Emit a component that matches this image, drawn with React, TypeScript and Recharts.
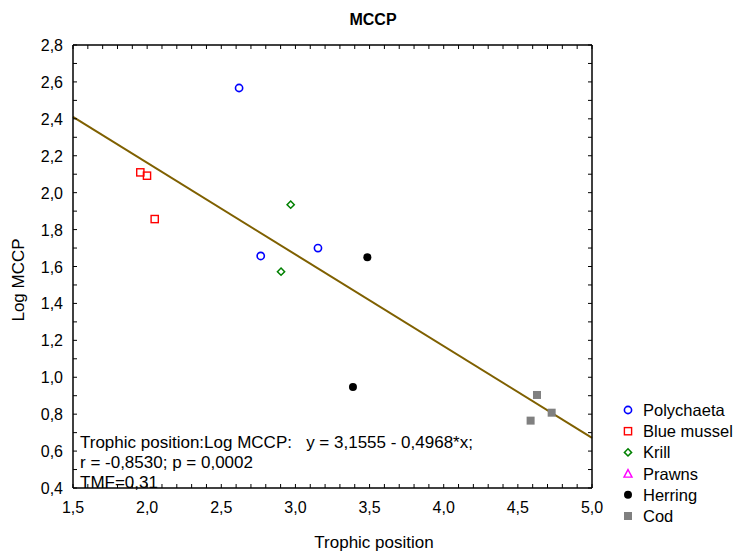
import React from 'react';
import { ScatterChart, Scatter, XAxis, YAxis, ReferenceLine } from 'recharts';

const polychaeta = [
  { x: 2.62, y: 2.567 },
  { x: 2.766, y: 1.657 },
  { x: 3.152, y: 1.7 },
];
const blueMussel = [
  { x: 1.954, y: 2.11 },
  { x: 1.999, y: 2.092 },
  { x: 2.051, y: 1.857 },
];
const krill = [
  { x: 2.968, y: 1.935 },
  { x: 2.903, y: 1.572 },
];
const prawns: { x: number; y: number }[] = [];
const herring = [
  { x: 3.485, y: 1.65 },
  { x: 3.388, y: 0.947 },
];
const cod = [
  { x: 4.629, y: 0.904 },
  { x: 4.728, y: 0.808 },
  { x: 4.586, y: 0.765 },
];
const fitLine = [
  { x: 1.5, y: 2.4103 },
  { x: 5.0, y: 0.6715 },
];

const xTicks = [1.5, 1.6, 1.7, 1.8, 1.9, 2.0, 2.1, 2.2, 2.3, 2.4, 2.5, 2.6, 2.7, 2.8, 2.9, 3.0, 3.1, 3.2, 3.3, 3.4, 3.5, 3.6, 3.7, 3.8, 3.9, 4.0, 4.1, 4.2, 4.3, 4.4, 4.5, 4.6, 4.7, 4.8, 4.9, 5.0];
const xMajor = [1.5, 2.0, 2.5, 3.0, 3.5, 4.0, 4.5, 5.0];
const xMajorLabels = ['1,5', '2,0', '2,5', '3,0', '3,5', '4,0', '4,5', '5,0'];
const yTicks = [0.4, 0.5, 0.6, 0.7, 0.8, 0.9, 1.0, 1.1, 1.2, 1.3, 1.4, 1.5, 1.6, 1.7, 1.8, 1.9, 2.0, 2.1, 2.2, 2.3, 2.4, 2.5, 2.6, 2.7, 2.8];
const yMajor = [0.4, 0.6, 0.8, 1.0, 1.2, 1.4, 1.6, 1.8, 2.0, 2.2, 2.4, 2.6, 2.8];
const yMajorLabels = ['0,4', '0,6', '0,8', '1,0', '1,2', '1,4', '1,6', '1,8', '2,0', '2,2', '2,4', '2,6', '2,8'];

const annotationLines = [
  'Trophic position:Log MCCP:   y = 3,1555 - 0,4968*x;',
  'r = -0,8530; p = 0,0002',
  'TMF=0,31',
];
const legendNames = ['Polychaeta', 'Blue mussel', 'Krill', 'Prawns', 'Herring', 'Cod'];
const legendKinds = ['circle', 'square', 'diamond', 'triangle', 'dot', 'block'];

const FONT = '"Liberation Sans", Arial, sans-serif';
const TICK_LEN = 4;

const findLabel = (v: number, majors: number[], labels: string[]) => {
  const i = majors.findIndex((m) => Math.abs(m - v) < 1e-6);
  return i >= 0 ? labels[i] : null;
};

const BottomTick = (props: any) => {
  const { x, y, payload } = props;
  const label = findLabel(payload.value, xMajor, xMajorLabels);
  return (
    <g>
      <line x1={x} y1={y} x2={x} y2={y - TICK_LEN} stroke="#000" strokeWidth={1} />
      {label && (
        <text x={x} y={y + 25} textAnchor="middle" fontSize={16} fontFamily={FONT} fill="#000">
          {label}
        </text>
      )}
    </g>
  );
};
const TopTick = (props: any) => {
  const { x, y } = props;
  return <line x1={x} y1={y} x2={x} y2={y + TICK_LEN} stroke="#000" strokeWidth={1} />;
};
const LeftTick = (props: any) => {
  const { x, y, payload } = props;
  const label = findLabel(payload.value, yMajor, yMajorLabels);
  return (
    <g>
      <line x1={x} y1={y} x2={x + TICK_LEN} y2={y} stroke="#000" strokeWidth={1} />
      {label && (
        <text x={x - 10} y={y + 6} textAnchor="end" fontSize={16} fontFamily={FONT} fill="#000">
          {label}
        </text>
      )}
    </g>
  );
};
const RightTick = (props: any) => {
  const { x, y } = props;
  return <line x1={x} y1={y} x2={x - TICK_LEN} y2={y} stroke="#000" strokeWidth={1} />;
};

const Marker = ({ kind, cx, cy }: { kind: string; cx: number; cy: number }) => {
  switch (kind) {
    case 'circle':
      return <circle cx={cx} cy={cy} r={3.6} fill="none" stroke="#0000ff" strokeWidth={1.6} />;
    case 'square':
      return <rect x={cx - 3.6} y={cy - 3.6} width={7.2} height={7.2} fill="none" stroke="#ff0000" strokeWidth={1.4} />;
    case 'diamond':
      return (
        <polygon
          points={`${cx},${cy - 3.6} ${cx + 3.6},${cy} ${cx},${cy + 3.6} ${cx - 3.6},${cy}`}
          fill="none"
          stroke="#008000"
          strokeWidth={1.5}
        />
      );
    case 'triangle':
      return (
        <polygon
          points={`${cx},${cy - 4} ${cx + 4},${cy + 3.5} ${cx - 4},${cy + 3.5}`}
          fill="none"
          stroke="#ff00ff"
          strokeWidth={1.4}
        />
      );
    case 'dot':
      return <circle cx={cx} cy={cy} r={4} fill="#000" />;
    default:
      return <rect x={cx - 4} y={cy - 4} width={8} height={8} fill="#808080" />;
  }
};

const shapeFor = (kind: string) => (p: any) => <Marker kind={kind} cx={p.cx} cy={p.cy} />;

export default function App() {
  const series = [polychaeta, blueMussel, krill, prawns, herring, cod];
  return (
    <div style={{ position: 'absolute', left: 0, top: 0, width: 736, height: 551, background: '#fff' }}>
      <ScatterChart width={736} height={551} margin={{ top: 44, right: 143, bottom: 0, left: 0 }}>
        <XAxis
          type="number"
          dataKey="x"
          domain={[1.5, 5]}
          allowDataOverflow
          ticks={xTicks}
          interval={0}
          tick={<BottomTick />}
          tickLine={false}
          tickSize={0}
          tickMargin={0}
          height={63}
          axisLine={{ stroke: '#000', strokeWidth: 1.5 }}
        />
        <XAxis
          xAxisId="top"
          orientation="top"
          type="number"
          dataKey="x"
          domain={[1.5, 5]}
          allowDataOverflow
          ticks={xTicks}
          interval={0}
          tick={<TopTick />}
          tickLine={false}
          tickSize={0}
          tickMargin={0}
          height={1}
          axisLine={{ stroke: '#000', strokeWidth: 1.5 }}
        />
        <YAxis
          type="number"
          dataKey="y"
          domain={[0.4, 2.8]}
          allowDataOverflow
          ticks={yTicks}
          interval={0}
          tick={<LeftTick />}
          tickLine={false}
          tickSize={0}
          tickMargin={0}
          width={73}
          axisLine={{ stroke: '#000', strokeWidth: 1.5 }}
        />
        <YAxis
          yAxisId="right"
          orientation="right"
          type="number"
          dataKey="y"
          domain={[0.4, 2.8]}
          allowDataOverflow
          ticks={yTicks}
          interval={0}
          tick={<RightTick />}
          tickLine={false}
          tickSize={0}
          tickMargin={0}
          width={1}
          axisLine={{ stroke: '#000', strokeWidth: 1.5 }}
        />
        <ReferenceLine
          segment={fitLine}
          stroke="#7f6000"
          strokeWidth={2}
          ifOverflow="extendDomain"
        />
        {series.map((d, i) => (
          <Scatter
            key={legendNames[i]}
            name={legendNames[i]}
            data={d}
            shape={shapeFor(legendKinds[i])}
            isAnimationActive={false}
          />
        ))}
      </ScatterChart>
      <svg
        width={736}
        height={551}
        style={{ position: 'absolute', left: 0, top: 0, pointerEvents: 'none' }}
        fontFamily={FONT}
      >
        <text x={373} y={25} textAnchor="middle" fontSize={16} fontWeight="bold" fill="#000">
          MCCP
        </text>
        <text x={374} y={548} textAnchor="middle" fontSize={17} fill="#000">
          Trophic position
        </text>
        <text
          x={0}
          y={0}
          transform="translate(24,280) rotate(-90)"
          textAnchor="middle"
          fontSize={17}
          fill="#000"
        >
          Log MCCP
        </text>
        {annotationLines.map((t, i) => (
          <text key={i} x={80} y={448 + i * 20} fontSize={17} fill="#000" style={{ whiteSpace: 'pre' }}>
            {t}
          </text>
        ))}
        {legendNames.map((n, i) => (
          <g key={n}>
            <Marker kind={legendKinds[i]} cx={628} cy={410 + i * 21.2} />
            <text x={643} y={410 + i * 21.2 + 6} fontSize={16.5} fill="#000">
              {n}
            </text>
          </g>
        ))}
      </svg>
    </div>
  );
}
